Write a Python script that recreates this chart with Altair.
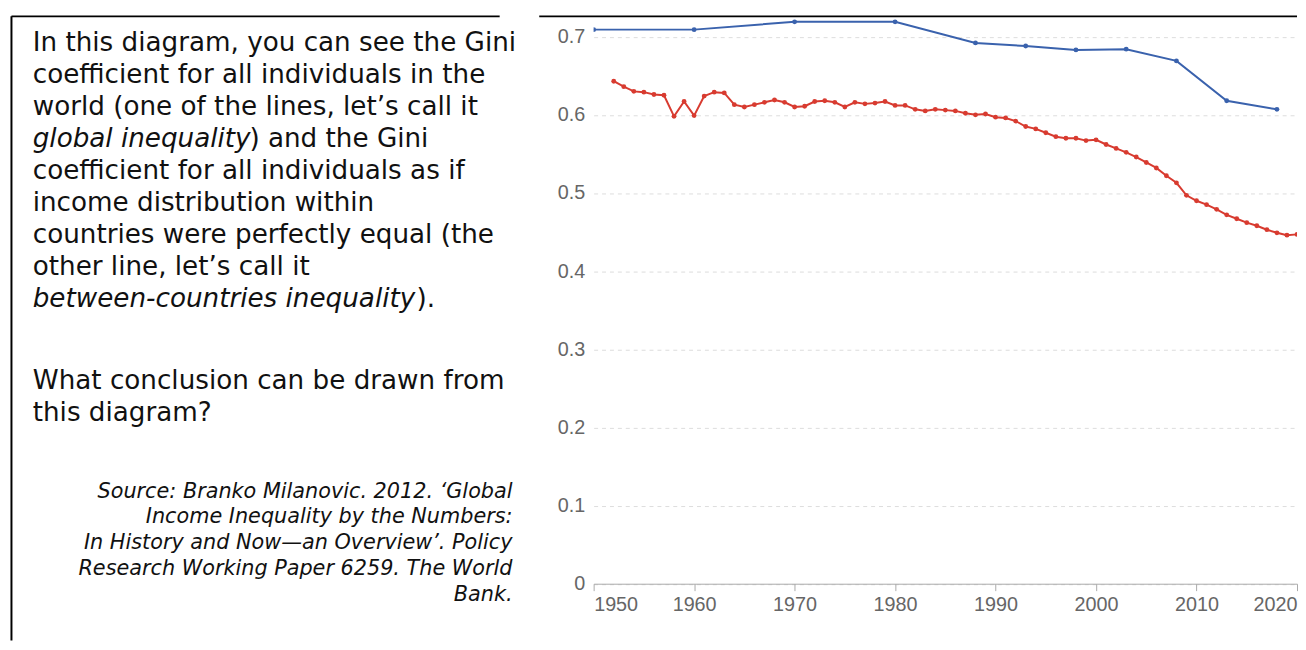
import altair as alt
import pandas as pd

# ---------------- data ----------------
GLOBAL_YEARS = [1950, 1960, 1970, 1980, 1988, 1993, 1998, 2003, 2008, 2013, 2018]
GLOBAL_GINI = [0.709, 0.709, 0.719, 0.719, 0.692, 0.688, 0.683, 0.684, 0.669, 0.618, 0.607]

BETWEEN_YEARS = list(range(1952, 2021))
BETWEEN_GINI = [
    0.643, 0.636, 0.630, 0.629, 0.626, 0.625, 0.598, 0.617, 0.599, 0.624,  # 1952-1961
    0.629, 0.628, 0.613, 0.610, 0.613, 0.616, 0.619, 0.616, 0.610, 0.611,  # 1962-1971
    0.617, 0.618, 0.616, 0.610, 0.616, 0.614, 0.615, 0.617, 0.612, 0.612,  # 1972-1981
    0.607, 0.605, 0.607, 0.606, 0.605, 0.602, 0.600, 0.601, 0.597, 0.596,  # 1982-1991
    0.592, 0.585, 0.582, 0.577, 0.572, 0.570, 0.570, 0.567, 0.568, 0.562,  # 1992-2001
    0.557, 0.552, 0.546, 0.539, 0.532, 0.522, 0.513, 0.497, 0.490, 0.485,  # 2002-2011
    0.479, 0.472, 0.467, 0.462, 0.458, 0.453, 0.449, 0.446, 0.447,         # 2012-2020
]

X_TICKS = [1950, 1960, 1970, 1980, 1990, 2000, 2010, 2020]
Y_TICKS = [0, 0.1, 0.2, 0.3, 0.4, 0.5, 0.6, 0.7]

PARA_LINES = [
    "In this diagram, you can see the Gini",
    "coefficient for all individuals in the",
    "world (one of the lines, let\u2019s call it",
    None,  # mixed line 4
    "coefficient for all individuals as if",
    "income distribution within",
    "countries were perfectly equal (the",
    "other line, let\u2019s call it",
    None,  # mixed line 9
]
LINE4_ITALIC = "global inequality"
LINE4_REST = ") and the Gini"
LINE9_ITALIC = "between-countries inequality"
LINE9_REST = ")."
QUESTION_LINES = ["What conclusion can be drawn from", "this diagram?"]
SOURCE_LINES = [
    "Source: Branko Milanovic. 2012. \u2018Global",
    "Income Inequality by the Numbers:",
    "In History and Now\u2014an Overview\u2019. Policy",
    "Research Working Paper 6259. The World",
    "Bank.",
]

BLUE = "#3a62ad"
RED = "#d83b30"
TEXT_FONT = "DejaVu Sans"
AXIS_FONT = "Liberation Sans"

# ---------------- left text panel ----------------
dummy = pd.DataFrame({"a": [0]})
LEFT_W, LEFT_H = 536, 636


def text_layer(s, x, y, style="normal", align="left", size=26.5):
    return alt.Chart(dummy).mark_text(
        align=align, baseline="alphabetic", font=TEXT_FONT, fontSize=size,
        fontStyle=style, color="#111111",
    ).encode(x=alt.value(x), y=alt.value(y), text=alt.value(s))


layers = []
# box border
layers.append(alt.Chart(dummy).mark_rule(color="black", strokeWidth=2).encode(
    x=alt.value(3.5), y=alt.value(5), y2=alt.value(LEFT_H)))
layers.append(alt.Chart(dummy).mark_rule(color="black", strokeWidth=2).encode(
    x=alt.value(3.5), x2=alt.value(497), y=alt.value(5)))

TX = 25
BASE = 40
LH = 32.3
for i, line in enumerate(PARA_LINES):
    y = BASE + LH * i
    if line is not None:
        layers.append(text_layer(line, TX, y))
layers.append(text_layer(LINE4_ITALIC, TX, BASE + LH * 3, style="italic"))
layers.append(text_layer(LINE4_REST, TX + 219, BASE + LH * 3))
layers.append(text_layer(LINE9_ITALIC, TX, BASE + LH * 8, style="italic"))
layers.append(text_layer(LINE9_REST, TX + 388, BASE + LH * 8))

for i, line in enumerate(QUESTION_LINES):
    layers.append(text_layer(line, TX, 382 + LH * i))

for i, line in enumerate(SOURCE_LINES):
    layers.append(text_layer(line, 510, 491.5 + 26 * i, style="italic", align="right", size=21))

left = alt.layer(*layers).properties(width=LEFT_W, height=LEFT_H)

# ---------------- right chart ----------------
df_g = pd.DataFrame({"year": GLOBAL_YEARS, "gini": GLOBAL_GINI})
df_b = pd.DataFrame({"year": BETWEEN_YEARS, "gini": BETWEEN_GINI})

PLOT_W, PLOT_H = 711, 578.5

x_enc = alt.X(
    "year:Q",
    scale=alt.Scale(domain=[1950, 2020], nice=False, zero=False),
    axis=alt.Axis(
        values=X_TICKS, format="d", labelFlush=True, grid=False,
        domainColor="#aaaaaa", tickColor="#aaaaaa", tickSize=7, labelPadding=4,
        labelColor="#666666", labelFontSize=20, labelFont=AXIS_FONT, title=None,
    ),
)
y_enc = alt.Y(
    "gini:Q",
    scale=alt.Scale(domain=[0, 0.7323], nice=False),
    axis=alt.Axis(
        values=Y_TICKS, format="~g", domain=False, ticks=False, grid=True,
        gridColor="#dddddd", gridDash=[4, 4], labelPadding=9,
        labelColor="#666666", labelFontSize=20, labelFont=AXIS_FONT, title=None,
    ),
)

blue = alt.Chart(df_g).mark_line(
    color=BLUE, strokeWidth=2, clip=True,
    point=alt.OverlayMarkDef(color=BLUE, size=24, filled=True, opacity=1, clip=True),
).encode(x=x_enc, y=y_enc)

red = alt.Chart(df_b).mark_line(
    color=RED, strokeWidth=2, clip=True,
    point=alt.OverlayMarkDef(color=RED, size=24, filled=True, opacity=1, clip=True),
).encode(x=x_enc, y=y_enc)

top_rule = alt.Chart(dummy).mark_rule(color="black", strokeWidth=2).encode(
    x=alt.value(-55), x2=alt.value(PLOT_W), y=alt.value(5))

right = alt.layer(top_rule, blue, red).properties(width=PLOT_W, height=PLOT_H)

chart = (
    alt.hconcat(left, right, spacing=0)
    .properties(padding=0)
    .configure_view(strokeWidth=0)
)

chart.save("out.html", embed_options={"renderer": "svg", "actions": False})
